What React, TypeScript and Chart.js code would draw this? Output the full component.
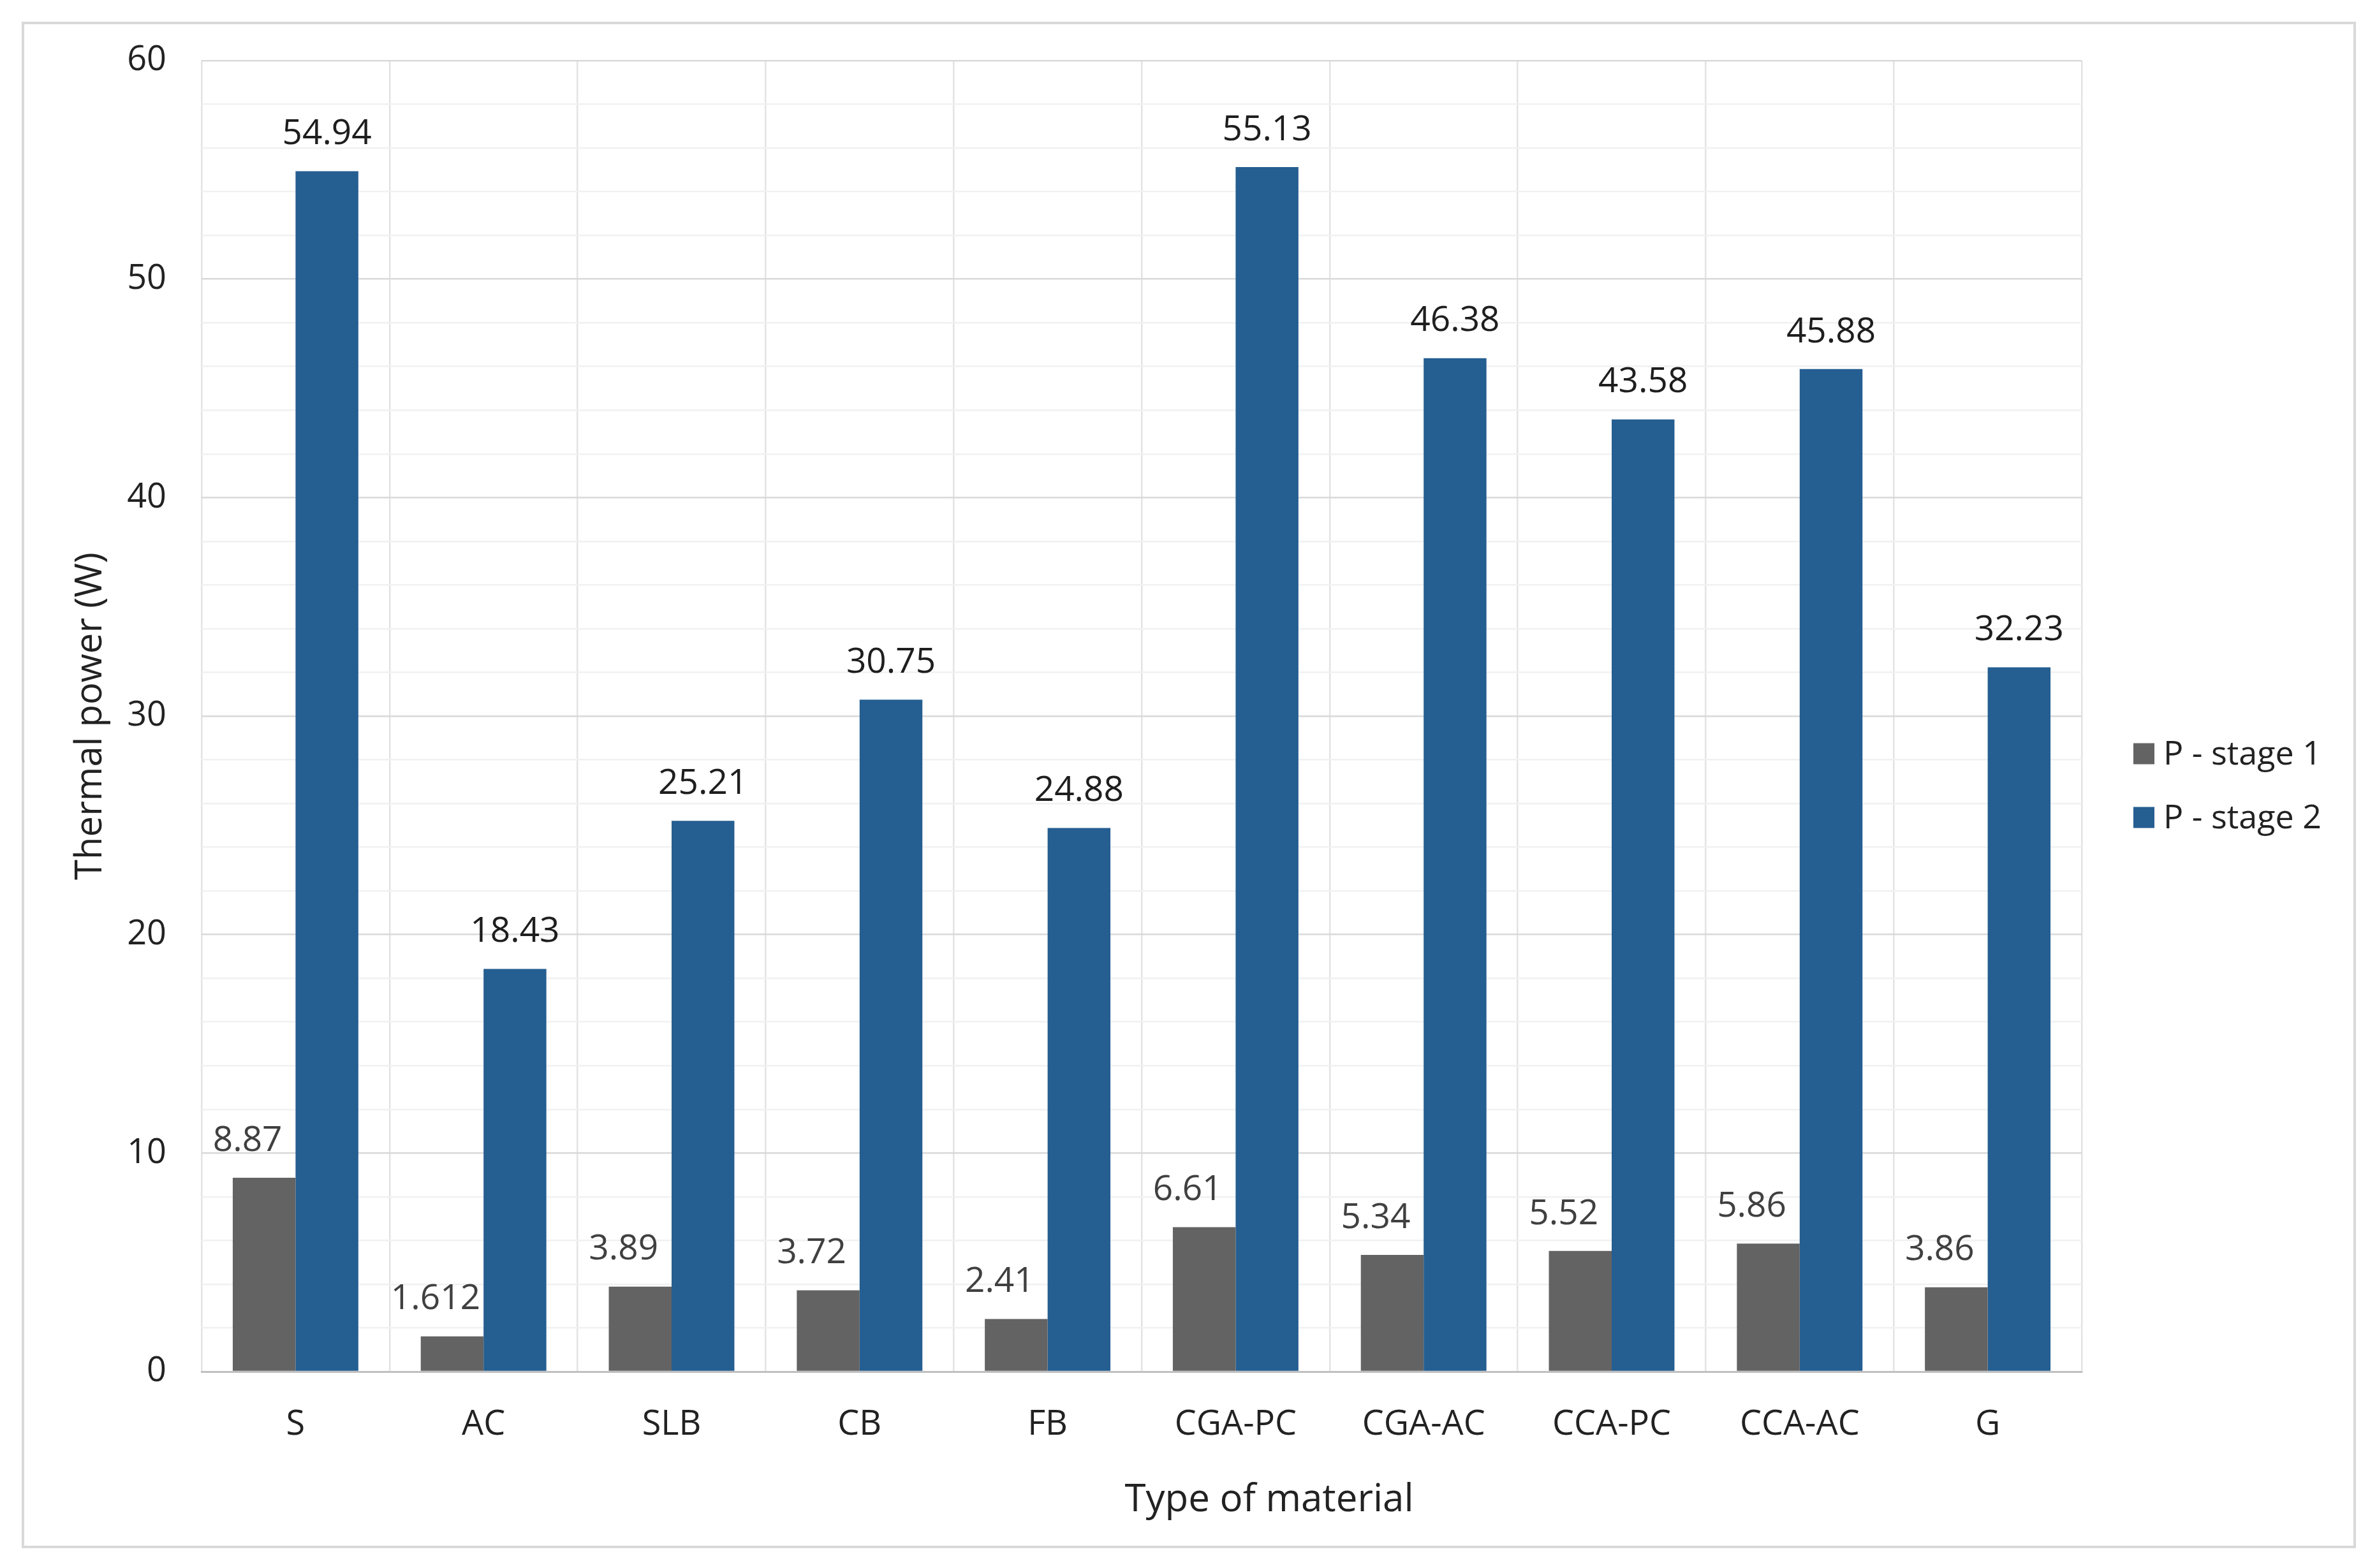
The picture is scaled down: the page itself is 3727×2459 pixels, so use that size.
import { useEffect, useRef } from 'react'
import { Chart, registerables } from 'chart.js'

Chart.register(...registerables)
Chart.defaults.font.family = '"Open Sans", sans-serif'
Chart.defaults.color = '#222222'

const materials = ['S', 'AC', 'SLB', 'CB', 'FB', 'CGA-PC', 'CGA-AC', 'CCA-PC', 'CCA-AC', 'G']
const stage1 = [8.87, 1.612, 3.89, 3.72, 2.41, 6.61, 5.34, 5.52, 5.86, 3.86]
const stage2 = [54.94, 18.43, 25.21, 30.75, 24.88, 55.13, 46.38, 43.58, 45.88, 32.23]
const seriesNames = ['P - stage 1', 'P - stage 2']
const seriesColors = ['#636363', '#255e91']
const valueColors = ['#404040', '#1e1e1e']
const yLabels = [0, 10, 20, 30, 40, 50, 60]
const xTitle = 'Type of material'
const yTitle = 'Thermal power (W)'

const TICK = 54

// numbers above each bar
const valueLabels = {
  id: 'valueLabels',
  afterDatasetsDraw(chart: Chart) {
    const { ctx } = chart
    ctx.save()
    ctx.font = '55px "Open Sans"'
    ctx.textAlign = 'center'
    ctx.textBaseline = 'middle'
    chart.data.datasets.forEach((ds, i) => {
      ctx.fillStyle = valueColors[i]
      const shift = i === 0 ? -26 : 0
      chart.getDatasetMeta(i).data.forEach((bar: any, j) => {
        ctx.fillText(String(ds.data[j]), bar.x + shift, bar.y - 58)
      })
    })
    ctx.restore()
  },
}

// legend on the right + x title (sits right of the plot centre, like the original)
const extras = {
  id: 'extras',
  afterDraw(chart: Chart) {
    const { ctx, chartArea } = chart
    const x = chartArea.right + 81
    const mid = (chartArea.top + chartArea.bottom) / 2 + 59
    const box = 33
    ctx.save()
    ctx.font = '52px "Open Sans"'
    ctx.textAlign = 'left'
    ctx.textBaseline = 'middle'
    chart.data.datasets.forEach((ds, i) => {
      const y = mid + i * 100
      ctx.fillStyle = ds.backgroundColor as string
      ctx.fillRect(x, y - box / 2, box, box)
      ctx.fillStyle = '#222222'
      ctx.fillText(ds.label as string, x + box + 14, y + 2)
    })

    ctx.font = '60px "Open Sans"'
    ctx.textAlign = 'center'
    ctx.fillText(xTitle, (chartArea.left + chartArea.right) / 2 + 200, chartArea.bottom + 202)
    ctx.restore()
  },
}

function BarChart() {
  const ref = useRef<HTMLCanvasElement>(null)
  const chartRef = useRef<Chart | null>(null)

  useEffect(() => {
    if (!ref.current) return
    if (chartRef.current) chartRef.current.destroy()

    chartRef.current = new Chart(ref.current, {
      type: 'bar',
      data: {
        labels: materials,
        datasets: [
          { label: seriesNames[0], data: stage1, backgroundColor: seriesColors[0], borderWidth: 0 },
          { label: seriesNames[1], data: stage2, backgroundColor: seriesColors[1], borderWidth: 0 },
        ],
      },
      options: {
        animation: false,
        responsive: true,
        maintainAspectRatio: false,
        categoryPercentage: 0.668,
        barPercentage: 1,
        layout: { padding: { top: 57, right: 426, bottom: 0, left: 0 } },
        plugins: {
          legend: { display: false },
          tooltip: { enabled: false },
        },
        scales: {
          x: {
            grid: { color: '#e3e3e3', lineWidth: 2.5, drawTicks: false, offset: true },
            border: { color: '#bfbfbf', width: 3 },
            ticks: { padding: 51, font: { size: TICK } },
            afterFit: (s: any) => { s.height = 273 },
          },
          y: {
            min: 0,
            max: 60,
            grid: {
              drawTicks: true,
              tickLength: 52,
              tickColor: 'rgba(0,0,0,0)',
              lineWidth: 2.5,
              color: (c: any) => (c.tick.value === 0 ? 'rgba(0,0,0,0)' : c.tick.value % 10 === 0 ? '#d9d9d9' : '#f1f1f1'),
            },
            border: { display: false },
            ticks: {
              stepSize: 2,
              autoSkip: false,
              padding: 3,
              font: { size: TICK },
              callback: (v: any) => (yLabels.includes(v) ? String(v) : ''),
            },
            title: {
              display: true,
              text: yTitle,
              font: { size: 58 },
              padding: { top: 70, bottom: 0 },
            },
            afterFit: (s: any) => { s.width = 278 },
          },
        },
      },
      plugins: [valueLabels, extras],
    })

    return () => { chartRef.current?.destroy() }
  }, [])

  return (
    <div style={{ position: 'relative', width: 3652, height: 2386 }}>
      <canvas ref={ref} />
    </div>
  )
}

export default function App() {
  return (
    <div style={{ position: 'absolute', left: 0, top: 0, width: 3727, height: 2459, background: '#ffffff' }}>
      <div
        style={{
          position: 'absolute',
          left: 34,
          top: 34,
          width: 3660,
          height: 2394,
          border: '4px solid #d9d9d9',
          boxSizing: 'border-box',
        }}
      >
        <BarChart />
      </div>
    </div>
  )
}
